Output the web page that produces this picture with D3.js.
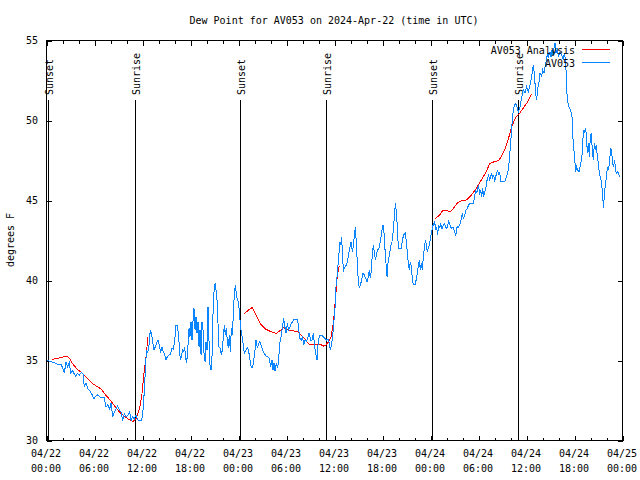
<!DOCTYPE html>
<html><head><meta charset="utf-8">
<script src="https://cdn.jsdelivr.net/npm/d3@7"></script>
<style>
body{margin:0;background:#fff}
svg text{font-family:"DejaVu Sans Mono","Liberation Mono",monospace;font-size:10px;fill:#000}
</style></head><body>
<svg id="chart" width="640" height="480"></svg>
<script>
// Hours after 2024-04-22 00:00 UTC
const obsHours = [0.08,0.58,1.0,1.42,1.92,2.17,2.29,2.5,2.71,2.92,3.08,3.33,3.71,3.92,4.17,4.42,4.63,4.79,5.0,5.21,5.46,5.71,6.0,6.25,6.5,6.75,7.04,7.29,7.5,7.75,7.96,8.13,8.33,8.54,8.75,8.96,9.17,9.38,9.58,9.79,10.0,10.25,10.46,10.63,10.83,11.04,11.25,11.46,11.71,11.92,12.08,12.21,12.38,12.5,12.58,12.71,12.88,13.04,13.21,13.33,13.5,13.67,13.83,14.0,14.17,14.33,14.5,14.67,14.83,15.0,15.17,15.33,15.58,15.75,15.92,16.08,16.25,16.42,16.58,16.71,16.83,16.96,17.08,17.21,17.33,17.46,17.58,17.71,17.88,18.0,18.13,18.25,18.38,18.5,18.63,18.75,18.88,19.0,19.13,19.25,19.38,19.5,19.63,19.75,19.88,20.0,20.13,20.25,20.38,20.5,20.63,20.75,20.88,21.0,21.13,21.25,21.38,21.5,21.63,21.79,21.92,22.04,22.17,22.29,22.42,22.54,22.67,22.79,22.92,23.04,23.17,23.29,23.42,23.54,23.67,23.79,23.92,24.04,24.17,24.25,24.38,24.58,24.79,25.0,25.21,25.42,25.58,25.75,25.92,26.08,26.25,26.42,26.54,26.75,26.92,27.08,27.29,27.5,27.71,27.92,28.08,28.25,28.38,28.5,28.63,28.79,28.96,29.08,29.21,29.38,29.54,29.71,29.83,30.0,30.17,30.33,30.5,30.67,30.83,31.0,31.25,31.46,31.58,31.75,31.92,32.08,32.21,32.38,32.54,32.71,32.88,33.08,33.25,33.42,33.58,33.75,33.88,34.0,34.17,34.42,34.67,34.88,35.08,35.25,35.42,35.54,35.67,35.83,36.0,36.17,36.25,36.42,36.54,36.75,36.88,36.96,37.08,37.21,37.38,37.58,37.79,37.96,38.13,38.29,38.42,38.54,38.67,38.79,38.92,39.04,39.17,39.29,39.46,39.63,39.79,39.96,40.13,40.29,40.42,40.54,40.67,40.79,40.92,41.04,41.17,41.29,41.42,41.58,41.75,41.88,42.0,42.13,42.25,42.38,42.5,42.63,42.75,42.92,43.08,43.25,43.42,43.54,43.67,43.79,43.92,44.04,44.25,44.42,44.54,44.71,44.92,45.04,45.17,45.29,45.42,45.54,45.67,45.79,45.92,46.17,46.29,46.42,46.54,46.67,46.79,46.92,47.04,47.17,47.29,47.42,47.54,47.67,47.79,47.96,48.17,48.33,48.46,48.58,48.71,48.83,48.96,49.08,49.21,49.33,49.5,49.67,49.83,50.0,50.17,50.33,50.5,50.67,50.88,51.08,51.21,51.38,51.54,51.71,51.88,52.04,52.17,52.33,52.5,52.67,52.83,53.04,53.25,53.42,53.58,53.71,53.83,53.96,54.08,54.21,54.33,54.46,54.58,54.71,54.83,54.96,55.08,55.21,55.33,55.46,55.58,55.71,55.83,55.96,56.08,56.21,56.33,56.46,56.58,56.71,56.83,57.0,57.17,57.33,57.5,57.67,57.79,57.92,58.04,58.17,58.29,58.42,58.54,58.67,58.79,58.92,59.04,59.25,59.46,59.67,59.88,60.08,60.29,60.5,60.71,60.92,61.04,61.21,61.33,61.46,61.63,61.75,61.96,62.08,62.25,62.38,62.58,62.71,62.83,63.0,63.13,63.25,63.38,63.5,63.63,63.75,63.92,64.04,64.25,64.46,64.67,64.79,64.96,65.08,65.21,65.38,65.58,65.75,65.92,66.04,66.13,66.21,66.33,66.46,66.63,66.75,66.88,67.04,67.17,67.29,67.42,67.54,67.67,67.79,67.92,68.04,68.17,68.29,68.42,68.54,68.67,68.79,68.92,69.04,69.17,69.29,69.46,69.58,69.71,69.79,69.96,70.08,70.21,70.33,70.46,70.58,70.71,70.83,70.96,71.08,71.21,71.33,71.46,71.63,71.75];
const obsValues = [34.98,34.9,34.83,34.75,34.69,34.38,34.17,34.9,34.58,34.83,34.17,34.33,33.96,34.17,34.06,34.21,34.13,33.33,33.58,33.23,33.08,32.88,32.58,32.75,32.83,32.67,32.67,32.65,32.04,32.21,31.92,32.29,31.46,31.75,31.92,32.13,31.88,31.75,31.21,31.63,31.42,31.56,31.75,31.21,31.46,31.33,31.56,31.25,31.19,31.21,31.56,32.4,33.96,35.1,35.63,35.42,35.94,36.88,36.56,36.15,35.63,35.83,36.04,36.25,35.94,35.46,35.79,35.52,35.31,35.0,35.21,35.31,35.38,35.73,35.69,36.15,37.19,37.13,36.56,35.42,35.0,35.31,35.63,35.52,35.83,35.1,34.79,35.63,36.98,36.46,37.4,36.25,37.5,38.23,36.88,37.71,36.67,37.4,35.83,36.88,35.31,37.4,36.85,35.42,34.9,36.15,35.63,38.33,36.15,34.69,34.38,35.21,37.92,39.27,39.79,39.38,38.75,37.29,35.79,35.73,35.31,35.63,36.46,37.19,36.56,36.98,36.15,35.73,36.56,35.52,36.98,36.56,37.92,39.17,39.69,39.17,38.75,38.65,38.02,37.5,36.88,36.25,35.42,35.63,35.79,35.31,34.69,34.48,34.79,35.42,36.25,35.73,35.97,36.15,35.88,35.63,35.42,35.25,35.21,35.1,34.58,35.0,34.38,34.79,34.33,34.79,34.48,35.0,36.04,36.46,36.98,37.6,37.17,36.67,37.29,36.88,37.08,37.29,37.4,37.54,37.54,37.54,36.88,36.35,36.25,36.46,35.94,36.25,36.15,36.35,36.67,36.25,36.25,36.67,35.83,35.31,35.0,35.94,36.56,36.56,36.46,36.35,36.25,36.3,36.04,35.63,35.94,36.46,37.5,38.54,39.58,40.42,41.15,42.4,42.19,42.71,41.25,40.63,40.83,40.94,41.46,41.98,42.4,41.77,42.08,42.81,43.29,42.29,41.04,39.9,39.48,39.69,40.0,40.42,40.31,40.1,39.9,40.21,40.63,40.1,40.63,41.67,42.19,41.77,41.25,41.56,41.88,41.92,42.29,42.71,43.13,43.44,42.92,41.88,41.04,40.21,41.04,41.56,42.08,42.4,43.13,43.96,44.79,44.27,43.33,41.98,41.98,41.98,42.5,42.81,42.92,42.4,41.67,41.04,40.63,41.15,40.83,40.1,39.69,39.69,40.1,40.42,40.94,41.25,40.63,41.04,40.63,41.46,41.98,42.5,42.19,41.77,41.98,42.29,42.92,43.33,43.54,43.65,43.13,43.33,42.81,43.44,43.23,43.54,43.17,43.44,43.54,43.23,43.29,43.65,43.44,43.23,43.33,43.02,42.77,43.33,43.29,43.44,43.75,44.17,43.85,44.06,44.38,44.48,44.69,44.79,44.75,44.79,45.21,45.63,45.42,45.73,45.94,45.31,45.63,45.21,45.73,45.21,45.52,45.63,46.15,46.35,46.56,46.29,46.46,46.67,46.35,46.56,46.15,46.46,46.67,46.88,46.56,46.77,46.15,46.15,46.15,46.15,46.35,46.67,46.88,47.5,48.33,49.17,50.0,50.63,50.94,51.0,50.94,50.73,50.52,50.8,51.4,51.9,51.7,52.08,51.77,52.19,52.71,53.44,52.92,51.67,51.25,51.98,52.4,52.92,52.71,53.13,52.92,53.33,53.85,54.17,53.96,54.27,53.96,54.38,54.06,54.48,54.79,54.17,54.48,53.96,54.27,54.06,53.75,54.17,53.75,51.88,51.15,50.83,50.63,50.21,48.33,47.92,47.29,46.77,47.08,46.88,46.77,47.08,47.4,47.92,49.38,49.17,49.48,49.17,47.92,48.54,47.71,48.96,49.17,48.13,47.5,48.54,48.13,48.44,47.71,47.29,46.67,46.46,46.04,45.21,44.48,45.42,46.04,46.67,47.08,46.88,47.5,48.23,48.02,47.29,47.08,47.5,46.77,46.67,46.77,46.56,46.46];

// Analysis series, three separate pieces
const anaHours1 = [0.75,1.42,2.04,2.58,2.96,3.29,3.92,4.54,5.17,5.79,6.42,6.92,7.46,8.08,8.71,9.33,9.96,10.58,10.9,11.33,11.75,12.0,12.25,12.5,12.75];
const anaValues1 = [35.04,35.1,35.17,35.25,35.1,34.79,34.42,34.17,33.85,33.54,33.33,33.17,32.81,32.46,32.04,31.67,31.42,31.21,31.15,31.4,32.1,32.9,34.17,35.21,36.46];
const anaHours2 = [24.75,25.33,25.79,26.25,26.9,27.5,28.13,28.79,29.25,29.7,30.42,31.04,31.5,32.29,32.85,33.54,34.17,34.75,35.0,35.33,35.63,35.92,36.17,36.42,36.67];
const anaValues2 = [37.88,38.13,38.29,37.81,37.19,36.92,36.77,36.67,36.83,37.03,36.83,36.81,36.76,36.35,36.0,36.0,36.0,35.86,35.94,36.15,36.46,37.29,38.75,40.3,40.9];
const anaHours3 = [48.67,49.21,49.63,50.04,50.58,51.08,51.5,51.92,52.54,53.17,53.79,54.42,55.04,55.46,56.08,56.58,56.92,57.33,57.75,58.17,58.5,58.79,59.21,59.63,60.17,60.71];
const anaValues3 = [43.85,44.06,44.38,44.33,44.27,44.58,44.85,44.94,45.0,45.31,45.73,46.25,46.77,47.29,47.4,47.46,47.71,48.13,48.75,49.48,49.96,50.21,50.42,50.73,51.1,51.63];

const sunHours = [0.25,11.13,24.3,35.04,48.3,59.04];
const sunLabels = ["Sunset","Sunrise","Sunset","Sunrise","Sunset","Sunrise"];

const yTicks = [30,35,40,45,50,55];
const xMajorHours = [0,6,12,18,24,30,36,42,48,54,60,66,72];
const xDateLabels = ["04/22","04/22","04/22","04/22","04/23","04/23","04/23","04/23","04/24","04/24","04/24","04/24","04/25"];
const xTimeLabels = ["00:00","06:00","12:00","18:00","00:00","06:00","12:00","18:00","00:00","06:00","12:00","18:00","00:00"];
const xMinorHours = d3.range(0,73,2).filter(h => h % 6 !== 0);

const title = "Dew Point for AV053 on 2024-Apr-22 (time in UTC)";
const yLabel = "degrees F";
const seriesNames = ["AV053 Analysis","AV053"];
const colors = {ana:"#ff0000", obs:"#0a84ff"};

const L=46, R=622, T=40, B=440;
const svg = d3.select("#chart");
const x = d3.scaleLinear().domain([0,72]).range([L,R]);
const y = d3.scaleLinear().domain([30,55]).range([B,T]);

function styleAxis(g){
  g.select(".domain").remove();
  g.selectAll("line").attr("stroke","#000").attr("shape-rendering","crispEdges");
  g.selectAll("text").remove();
}
// ticks (inward, mirrored)
svg.append("g").attr("transform",`translate(0.5,${B+0.5})`).call(d3.axisBottom(x).tickValues(xMajorHours).tickSize(-5)).call(styleAxis);
svg.append("g").attr("transform",`translate(0.5,${B+0.5})`).call(d3.axisBottom(x).tickValues(xMinorHours).tickSize(-3)).call(styleAxis);
svg.append("g").attr("transform",`translate(0.5,${T+0.5})`).call(d3.axisTop(x).tickValues(xMajorHours).tickSize(-5)).call(styleAxis);
svg.append("g").attr("transform",`translate(0.5,${T+0.5})`).call(d3.axisTop(x).tickValues(xMinorHours).tickSize(-3)).call(styleAxis);
svg.append("g").attr("transform",`translate(${L+0.5},0.5)`).call(d3.axisLeft(y).tickValues(yTicks).tickSize(-5)).call(styleAxis);
svg.append("g").attr("transform",`translate(${R+0.5},0.5)`).call(d3.axisRight(y).tickValues(yTicks).tickSize(-5)).call(styleAxis);

// frame
svg.append("rect").attr("x",L+0.5).attr("y",T+0.5).attr("width",R-L).attr("height",B-T)
  .attr("fill","none").attr("stroke","#000").attr("shape-rendering","crispEdges");

// tick labels
svg.append("g").selectAll("text").data(yTicks).join("text")
  .attr("x",L-8).attr("y",d=>y(d)+4).attr("text-anchor","end").text(d=>d);
const xl = svg.append("g").selectAll("g").data(xMajorHours).join("g")
  .attr("transform",d=>`translate(${x(d)},0)`);
xl.append("text").attr("y",457).attr("text-anchor","middle").text((d,i)=>xDateLabels[i]);
xl.append("text").attr("y",472).attr("text-anchor","middle").text((d,i)=>xTimeLabels[i]);

// title and y label
svg.append("text").attr("x",(L+R)/2).attr("y",24).attr("text-anchor","middle").text(title);
svg.append("text").attr("transform","translate(14,240) rotate(-90)").attr("text-anchor","middle").text(yLabel);

// sunrise/sunset lines
const sun = svg.append("g").selectAll("g").data(sunHours).join("g")
  .attr("transform",d=>`translate(${Math.round(x(d))+0.5},0)`);
sun.append("line").attr("y1",y(30)).attr("y2",100).attr("stroke","#000").attr("shape-rendering","crispEdges");
sun.append("text").attr("transform","translate(4,95) rotate(-90)").attr("text-anchor","start").text((d,i)=>sunLabels[i]);

// data lines (aliased, like the original raster plot)
const line = d3.line().x(d=>x(d[0])).y(d=>y(d[1]));
const dataG = svg.append("g");
[[anaHours1,anaValues1],[anaHours2,anaValues2],[anaHours3,anaValues3]].forEach(([h,v])=>{
  dataG.append("path").datum(d3.zip(h,v)).attr("d",line).attr("fill","none")
    .attr("stroke",colors.ana).attr("stroke-width",1).attr("shape-rendering","crispEdges");
});
dataG.append("path").datum(d3.zip(obsHours,obsValues)).attr("d",line).attr("fill","none")
  .attr("stroke",colors.obs).attr("stroke-width",1).attr("shape-rendering","crispEdges");

// legend
const leg = svg.append("g");
[[seriesNames[0],colors.ana,49.5],[seriesNames[1],colors.obs,62.5]].forEach(([name,c,yy])=>{
  leg.append("text").attr("x",575).attr("y",yy+4).attr("text-anchor","end").text(name);
  leg.append("line").attr("x1",582).attr("x2",610).attr("y1",yy).attr("y2",yy)
    .attr("stroke",c).attr("shape-rendering","crispEdges");
});
</script>
</body></html>
